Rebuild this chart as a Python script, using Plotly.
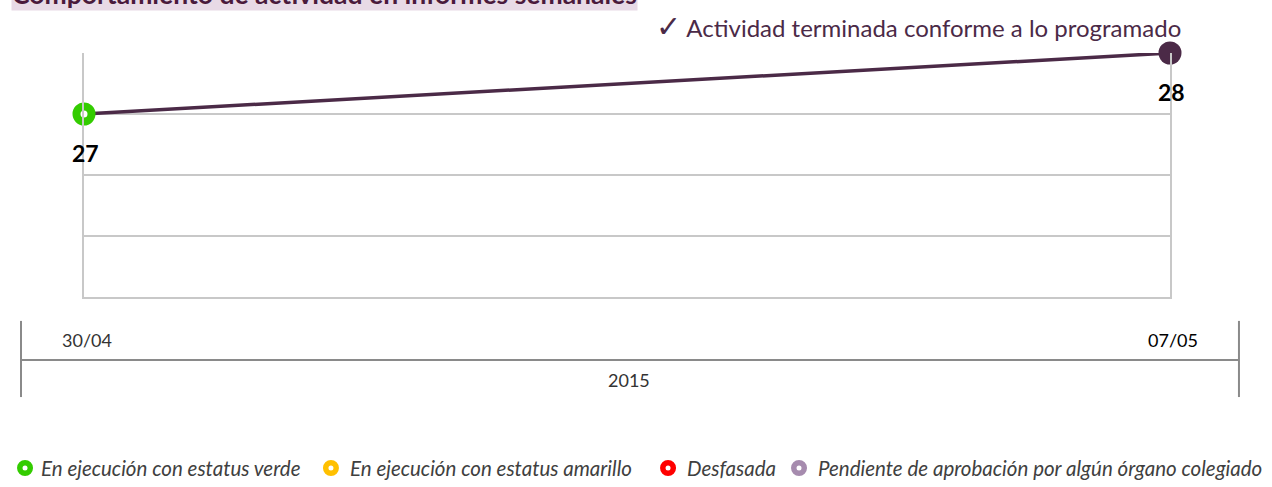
import plotly.graph_objects as go

# Weekly report: activity progress per reporting date
fechas = ["30/04", "07/05"]
valores = [27, 28]
anio = "2015"
colores_punto = ["#FFFFFF", "#4B2A47"]
bordes_punto = ["#33CC00", "#4B2A47"]

titulo = "Comportamiento de actividad en informes semanales"
subtitulo = "Actividad terminada conforme a lo programado"

leyenda_textos = [
    "En ejecución con estatus verde",
    "En ejecución con estatus amarillo",
    "Desfasada",
    "Pendiente de aprobación por algún órgano colegiado",
]
leyenda_colores = ["#33CC00", "#FFC000", "#FF0000", "#A68BAE"]

LINEA = "#4B2A47"
REJILLA = "#C8C8C8"
EJE = "#8A8A8A"
FUENTE = "Lato"

fig = go.Figure()

fig.add_trace(go.Scatter(
    x=fechas, y=valores,
    mode="lines+markers",
    line=dict(color=LINEA, width=3.5),
    marker=dict(
        color=colores_punto,
        size=[15, 23],
        opacity=1,
        line=dict(color=bordes_punto, width=[8, 0]),
    ),
    cliponaxis=False,
    showlegend=False,
    hoverinfo="skip",
))

# value labels under each point
for f, v in zip(fechas, valores):
    fig.add_annotation(
        x=f, y=v, xref="x", yref="y", text=f"<b>{v}</b>",
        showarrow=False, yshift=-39, xshift=1,
        font=dict(family=FUENTE, size=23, color="#000000"),
    )

# date labels on the lower time axis
for f, col in zip(fechas, ["#333333", "#000000"]):
    fig.add_annotation(
        x=f, y=-0.177, xref="x", yref="paper", text=f,
        showarrow=False, yanchor="middle", xshift=3,
        font=dict(family=FUENTE, size=18, color=col),
    )
fig.add_annotation(
    x=0.5, y=-0.34, xref="paper", yref="paper", text=anio,
    showarrow=False, yanchor="middle", xshift=2,
    font=dict(family=FUENTE, size=18, color="#333333"),
)

# bracket lines of the time axis
for sh in [
    dict(x0=-0.058, x1=1.0635, y0=-0.258, y1=-0.258),
    dict(x0=-0.058, x1=-0.058, y0=-0.098, y1=-0.41),
    dict(x0=1.0635, x1=1.0635, y0=-0.098, y1=-0.41),
]:
    fig.add_shape(type="line", xref="paper", yref="paper",
                  line=dict(color=EJE, width=2), **sh)

# status key below the chart: ring + italic label
ley_y = -0.7008
ley_anillo_x = [-0.0543, 0.2274, 0.5378, 0.6584]
ley_texto_x = [-0.0414, 0.2431, 0.5534, 0.6740]
for texto, color, xa, xt in zip(leyenda_textos, leyenda_colores,
                                ley_anillo_x, ley_texto_x):
    fig.add_shape(
        type="circle", xref="paper", yref="paper",
        xsizemode="pixel", ysizemode="pixel", xanchor=xa, yanchor=ley_y,
        x0=-5.25, x1=5.25, y0=-5.25, y1=5.25,
        fillcolor="#FFFFFF", line=dict(color=color, width=5.5),
    )
    fig.add_annotation(
        x=xt, y=ley_y, xref="paper", yref="paper", text=texto,
        showarrow=False, xanchor="left", yanchor="middle",
        font=dict(family=FUENTE, size=20.5, color="#404040", style="italic"),
    )

# heading band
fig.add_annotation(
    x=-0.0672, y=1.1721, xref="paper", yref="paper", text=f"<b>{titulo}</b>",
    showarrow=False, xanchor="left", yanchor="bottom",
    bgcolor="#E8DAE6", borderpad=0,
    font=dict(family=FUENTE, size=26.5, color="#4A1A3C"),
)
fig.add_annotation(
    x=1.012, y=1.113, xref="paper", yref="paper",
    text=f"<span style='font-size:30px'>✓</span> {subtitulo}",
    showarrow=False, xanchor="right", yanchor="middle",
    font=dict(family=FUENTE, size=24, color="#4B2A47"),
)

fig.update_layout(
    width=1272, height=487,
    margin=dict(l=84, r=102, t=53, b=190, autoexpand=False),
    paper_bgcolor="#FFFFFF", plot_bgcolor="#FFFFFF",
    font=dict(family=FUENTE),
    showlegend=False,
    xaxis=dict(
        type="category", range=[0, 1], showticklabels=False,
        showgrid=False, zeroline=False,
        showline=True, linecolor=REJILLA, linewidth=2,
    ),
    yaxis=dict(
        range=[24, 28], dtick=1, showticklabels=False,
        showgrid=True, gridcolor=REJILLA, gridwidth=2, zeroline=False,
        showline=True, mirror=True, linecolor=REJILLA, linewidth=2,
    ),
)

fig.write_html("out.html")
